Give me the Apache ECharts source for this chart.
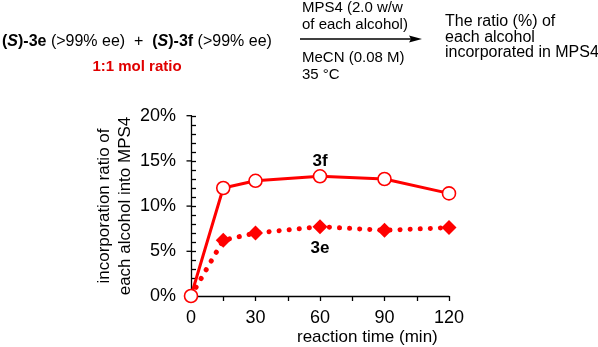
<!DOCTYPE html>
<html><head><meta charset="utf-8">
<script src="https://cdn.jsdelivr.net/npm/echarts@6/dist/echarts.min.js"></script>
<style>html,body{margin:0;padding:0;background:#fff}#c{width:598px;height:347px}</style>
</head><body><div id="c"></div>
<script>
const times = [0, 15, 30, 60, 90, 120];
const ratio3f = [0, 12.0, 12.8, 13.3, 13.0, 11.4];
const ratio3e = [0, 6.2, 7.0, 7.7, 7.3, 7.6];
const xTicks = [0, 30, 60, 90, 120];
const yTicks = [0, 5, 10, 15, 20];

const RED = '#ff0000';
const FONT = 'Liberation Sans, Arial, sans-serif';
const chart = echarts.init(document.getElementById('c'));
const majorY = yTicks.map(v => 296.5 - v * 9.04);
chart.setOption({
  animation: false,
  grid: {left: 191, right: 149, top: 116, bottom: 51},
  xAxis: {
    type: 'value', min: 0, max: 120, interval: 30,
    axisLine: {lineStyle: {color: '#000', width: 1.3}},
    axisTick: {show: true, length: 5, lineStyle: {color: '#000', width: 1.3}},
    minorTick: {show: true, splitNumber: 2, length: 5, lineStyle: {color: '#000', width: 1.3}},
    splitLine: {show: false},
    axisLabel: {color: '#000', fontSize: 18, fontFamily: FONT, margin: 13,
      formatter: v => xTicks.includes(v) ? String(v) : ''}
  },
  yAxis: {
    type: 'value', min: 0, max: 20, interval: 5,
    axisLine: {show: true, lineStyle: {color: '#000', width: 1.3}},
    axisTick: {show: true, inside: true, length: 5, lineStyle: {color: '#000', width: 1.3}},
    minorTick: {show: true, splitNumber: 5, length: 5, lineStyle: {color: '#000', width: 1.3}},
    splitLine: {show: false},
    axisLabel: {color: '#000', fontSize: 18, fontFamily: FONT, margin: 15,
      formatter: v => yTicks.includes(v) ? v + '%' : ''},
    name: 'incorporation ratio of\neach alcohol into MPS4',
    nameLocation: 'middle', nameGap: 55, nameRotate: 90,
    nameTextStyle: {color: '#000', fontSize: 17, fontFamily: FONT, lineHeight: 21}
  },
  series: [
    {
      type: 'line', name: '3e',
      data: times.map((t, i) => i === 0 ? {value: [t, ratio3e[i]], symbolSize: 0} : [t, ratio3e[i]]),
      symbol: 'diamond', symbolSize: 15,
      itemStyle: {color: RED, borderWidth: 0},
      lineStyle: {color: RED, width: 5, type: [0.1, 10], cap: 'round'},
      z: 2
    },
    {
      type: 'line', name: '3f',
      data: times.map((t, i) => [t, ratio3f[i]]),
      symbol: 'circle', symbolSize: 13,
      itemStyle: {color: '#fff', borderColor: RED, borderWidth: 1.6},
      lineStyle: {color: RED, width: 3},
      z: 3
    }
  ],
  graphic: majorY.map(y => ({type: 'line', shape: {x1: 192, y1: y, x2: 186.5, y2: y}, style: {stroke: '#000', lineWidth: 1.3}})).concat([
    {type: 'text', x: 297, y: 337, style: {text: 'reaction time (min)', fill: '#000', font: '17px ' + FONT, textVerticalAlign: 'middle'}},
    {type: 'text', x: 320, y: 161, style: {text: '3f', fill: '#000', font: 'bold 17px ' + FONT, textAlign: 'center', textVerticalAlign: 'middle'}},
    {type: 'text', x: 320, y: 248, style: {text: '3e', fill: '#000', font: 'bold 17px ' + FONT, textAlign: 'center', textVerticalAlign: 'middle'}},
    {type: 'text', x: 2, y: 42, style: {
      text: '{b|(}{bi|S}{b|)-3e} (>99% ee)  +  {b|(}{bi|S}{b|)-3f} (>99% ee)',
      fill: '#000', font: '16px ' + FONT, textVerticalAlign: 'middle',
      rich: {b: {fontWeight: 'bold', fontSize: 16, fontFamily: FONT}, bi: {fontWeight: 'bold', fontStyle: 'italic', fontSize: 16, fontFamily: FONT}}
    }},
    {type: 'text', x: 137, y: 67, style: {text: '1:1 mol ratio', fill: '#e00000', font: 'bold 15px ' + FONT, textAlign: 'center', textVerticalAlign: 'middle'}},
    {type: 'line', shape: {x1: 300, y1: 39, x2: 412, y2: 39}, style: {stroke: '#000', lineWidth: 1.5}},
    {type: 'polygon', shape: {points: [[422, 39], [409, 35.5], [411, 39], [409, 42.5]]}, style: {fill: '#000'}},
    {type: 'text', x: 302, y: 8, style: {text: 'MPS4 (2.0 w/w', fill: '#000', font: '15px ' + FONT, textVerticalAlign: 'middle'}},
    {type: 'text', x: 302, y: 25, style: {text: 'of each alcohol)', fill: '#000', font: '15px ' + FONT, textVerticalAlign: 'middle'}},
    {type: 'text', x: 302, y: 58, style: {text: 'MeCN (0.08 M)', fill: '#000', font: '15px ' + FONT, textVerticalAlign: 'middle'}},
    {type: 'text', x: 302, y: 75, style: {text: '35 °C', fill: '#000', font: '15px ' + FONT, textVerticalAlign: 'middle'}},
    {type: 'text', x: 445, y: 22, style: {text: 'The ratio (%) of', fill: '#000', font: '16px ' + FONT, textVerticalAlign: 'middle'}},
    {type: 'text', x: 445, y: 37.5, style: {text: 'each alcohol', fill: '#000', font: '16px ' + FONT, textVerticalAlign: 'middle'}},
    {type: 'text', x: 445, y: 53, style: {text: 'incorporated in MPS4', fill: '#000', font: '16px ' + FONT, textVerticalAlign: 'middle'}}
  ])
});
</script></body></html>
